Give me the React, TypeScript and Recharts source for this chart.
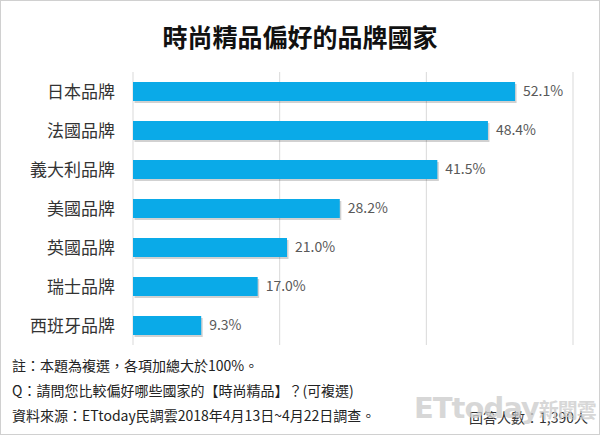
import React from 'react';
import { BarChart, Bar, XAxis, YAxis, CartesianGrid, LabelList } from 'recharts';

const categories = ['日本品牌', '法國品牌', '義大利品牌', '美國品牌', '英國品牌', '瑞士品牌', '西班牙品牌'];
const values = [52.1, 48.4, 41.5, 28.2, 21.0, 17.0, 9.3];
const xTicks = [0, 20, 40, 60];
const title = '時尚精品偏好的品牌國家';
const notes = [
  '註：本題為複選，各項加總大於100%。',
  'Q：請問您比較偏好哪些國家的【時尚精品】？(可複選)',
  '資料來源：ETtoday民調雲2018年4月13日~4月22日調查。',
];
const sampleText = '回答人數：1,390人';

const data = categories.map((name, i) => ({ name, value: values[i] }));

const font = '"Noto Sans CJK TC", "Noto Sans", sans-serif';

const ShadowBar = (props: any) => {
  const { x, y, width, height, fill } = props;
  return (
    <g>
      <rect x={x + 1.5} y={y + 2} width={width} height={height} fill="#000" opacity={0.18} />
      <rect x={x} y={y} width={width} height={height} fill={fill} />
    </g>
  );
};

export default function App() {
  return (
    <div style={{ position: 'absolute', left: 0, top: 0, width: 600, height: 435, background: '#fff', fontFamily: font }}>
      <div style={{ position: 'absolute', left: 0, top: 0, width: 598, height: 433, border: '1px solid #d0d0d0' }} />
      <div style={{ position: 'absolute', left: 0, top: 18, width: 600, textAlign: 'center', fontSize: 25, fontWeight: 'bold', color: '#111', lineHeight: '36px' }}>
        {title}
      </div>
      <div style={{ position: 'absolute', left: 0, top: 0 }}>
        <BarChart
          width={600}
          height={435}
          data={data}
          layout="vertical"
          margin={{ top: 72, right: 27, bottom: 90, left: 10 }}
          barCategoryGap={10}
        >
          <CartesianGrid horizontal={false} vertical={true} stroke="#d9d9d9" />
          <XAxis type="number" domain={[0, 60]} ticks={xTicks} hide />
          <YAxis
            type="category"
            dataKey="name"
            width={123}
            axisLine={false}
            tickLine={false}
            tickSize={0}
            tickMargin={18}
            tick={{ fontSize: 17, fill: '#333', fontFamily: font }}
          />
          <Bar dataKey="value" fill="#0aaae8" isAnimationActive={false} shape={ShadowBar}>
            <LabelList
              dataKey="value"
              position="right"
              offset={8}
              formatter={(v: any) => `${Number(v).toFixed(1)}%`}
              style={{ fontSize: 14, fill: '#595959', fontFamily: font }}
            />
          </Bar>
        </BarChart>
      </div>
      {notes.map((t, i) => (
        <div key={i} style={{ position: 'absolute', left: 12, top: 355 + i * 25, fontSize: 14, color: '#222', lineHeight: '20px', whiteSpace: 'nowrap' }}>
          {t}
        </div>
      ))}
      <div style={{ position: 'absolute', right: 12, top: 407, fontSize: 14, color: '#333', lineHeight: '20px', whiteSpace: 'nowrap' }}>
        {sampleText}
      </div>
      <div style={{ position: 'absolute', left: 414, top: 392, fontSize: 29, fontWeight: 'bold', color: 'rgba(205,205,205,0.8)', lineHeight: '32px', whiteSpace: 'nowrap', fontFamily: '"DejaVu Sans", sans-serif', letterSpacing: -1 }}>
        ETtoday<span style={{ fontSize: 20, fontFamily: font }}>新聞雲</span>
      </div>
    </div>
  );
}
